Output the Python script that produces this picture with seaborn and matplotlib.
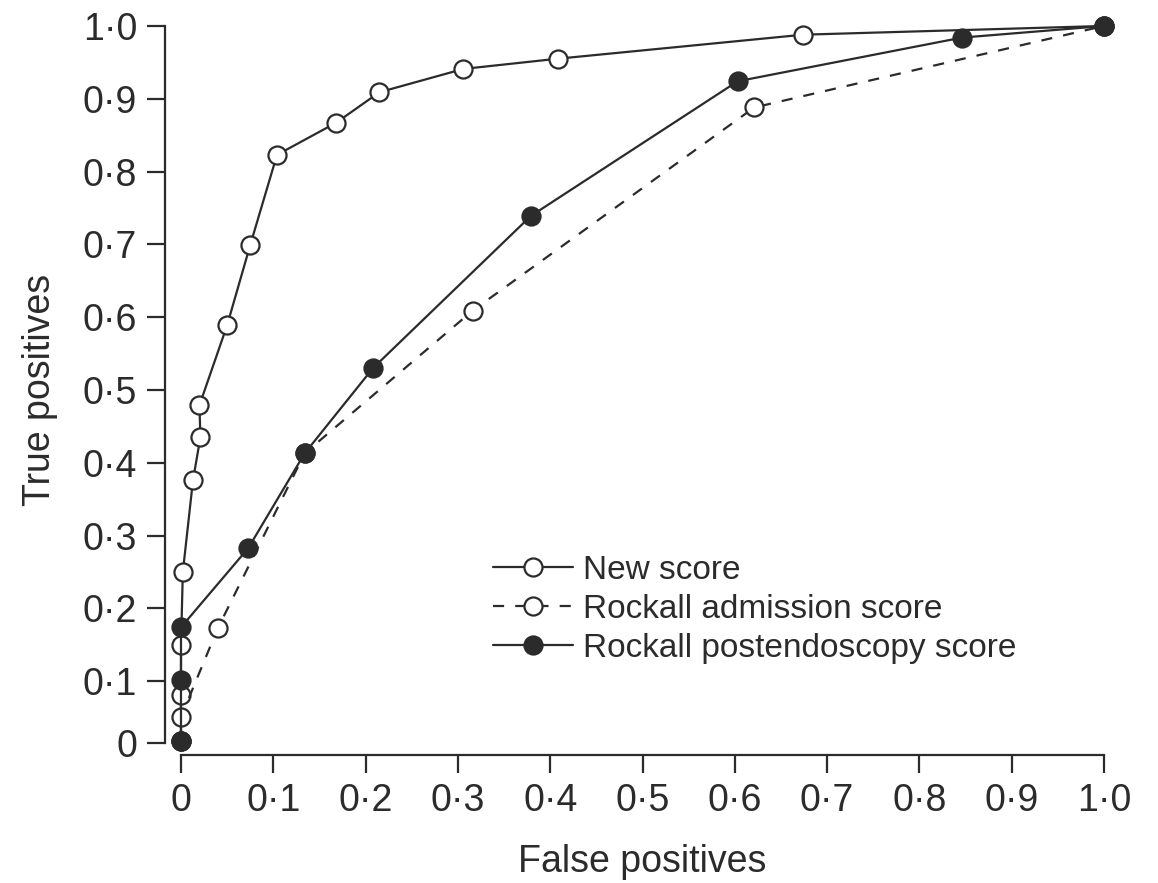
import matplotlib
matplotlib.use("Agg")
import matplotlib.pyplot as plt
import numpy as np
import seaborn as sns

# ROC curves
new_fp = [0, 0, 0, 0.002, 0.013, 0.021, 0.020, 0.050, 0.075, 0.104, 0.168, 0.215, 0.306, 0.408, 0.674, 1.0]
new_tp = [0.018, 0.081, 0.150, 0.250, 0.376, 0.435, 0.479, 0.589, 0.699, 0.823, 0.867, 0.909, 0.941, 0.955, 0.988, 1.0]

adm_fp = [0, 0, 0.040, 0.134, 0.316, 0.621, 1.0]
adm_tp = [0.018, 0.051, 0.173, 0.413, 0.609, 0.888, 1.0]

post_fp = [0, 0, 0, 0.073, 0.134, 0.208, 0.379, 0.603, 0.846, 1.0]
post_tp = [0.018, 0.102, 0.174, 0.283, 0.413, 0.530, 0.739, 0.924, 0.984, 1.0]

ticks = [0, 0.1, 0.2, 0.3, 0.4, 0.5, 0.6, 0.7, 0.8, 0.9, 1.0]
tick_labels = ["0", "0·1", "0·2", "0·3", "0·4", "0·5", "0·6", "0·7", "0·8", "0·9", "1·0"]
# the original's y axis puts its "0" a little above the true zero
y_ticks = [0.015] + ticks[1:]

sns.set_style("ticks")
plt.rcParams['font.family'] = ['Liberation Sans', 'DejaVu Sans']

ink = "#2b2b2b"

fig = plt.figure(figsize=(11.58, 8.83), dpi=100, facecolor='w')
ax = fig.add_axes([0.1563, 0.1461, 0.7971, 0.8245])

common = dict(estimator=None, sort=False, marker='o', markersize=13,
              markeredgewidth=1.6, markeredgecolor=ink, color=ink,
              linewidth=1.6, ax=ax, clip_on=False)

sns.lineplot(x=new_fp, y=new_tp, label="New score",
             markerfacecolor='white', **common)
sns.lineplot(x=adm_fp, y=adm_tp, label="Rockall admission score",
             markerfacecolor='white', dashes=False, linestyle=(0, (5, 5)), **common)
sns.lineplot(x=post_fp, y=post_tp, label="Rockall postendoscopy score",
             markerfacecolor=ink, **common)

ax.set_xlim(0, 1)
ax.set_ylim(0, 1)
ax.set_xticks(ticks)
ax.set_xticklabels(tick_labels)
ax.set_yticks(y_ticks)
ax.set_yticklabels(tick_labels)

ax.spines['top'].set_visible(False)
ax.spines['right'].set_visible(False)
ax.spines['left'].set_position(('outward', 11.5))
ax.spines['left'].set_bounds(y_ticks[0], 1)
ax.spines['bottom'].set_position(('outward', 1))
for s in ('left', 'bottom'):
    ax.spines[s].set_linewidth(1.6)
    ax.spines[s].set_color(ink)

ax.tick_params(axis='both', length=13, width=1.6, color=ink,
               labelsize=27, labelcolor=ink, pad=7)

ax.set_xlabel("False positives", fontsize=27, color=ink, labelpad=18)
ax.set_ylabel("True positives", fontsize=27, color=ink, labelpad=18)

leg = ax.legend(loc='upper left', bbox_to_anchor=(0.324, 0.292), frameon=False,
                fontsize=24, handlelength=2.4, handletextpad=0.3,
                labelspacing=0.24, borderaxespad=0)
for t in leg.get_texts():
    t.set_color(ink)

fig.savefig("out.png", dpi=100, facecolor='w')
